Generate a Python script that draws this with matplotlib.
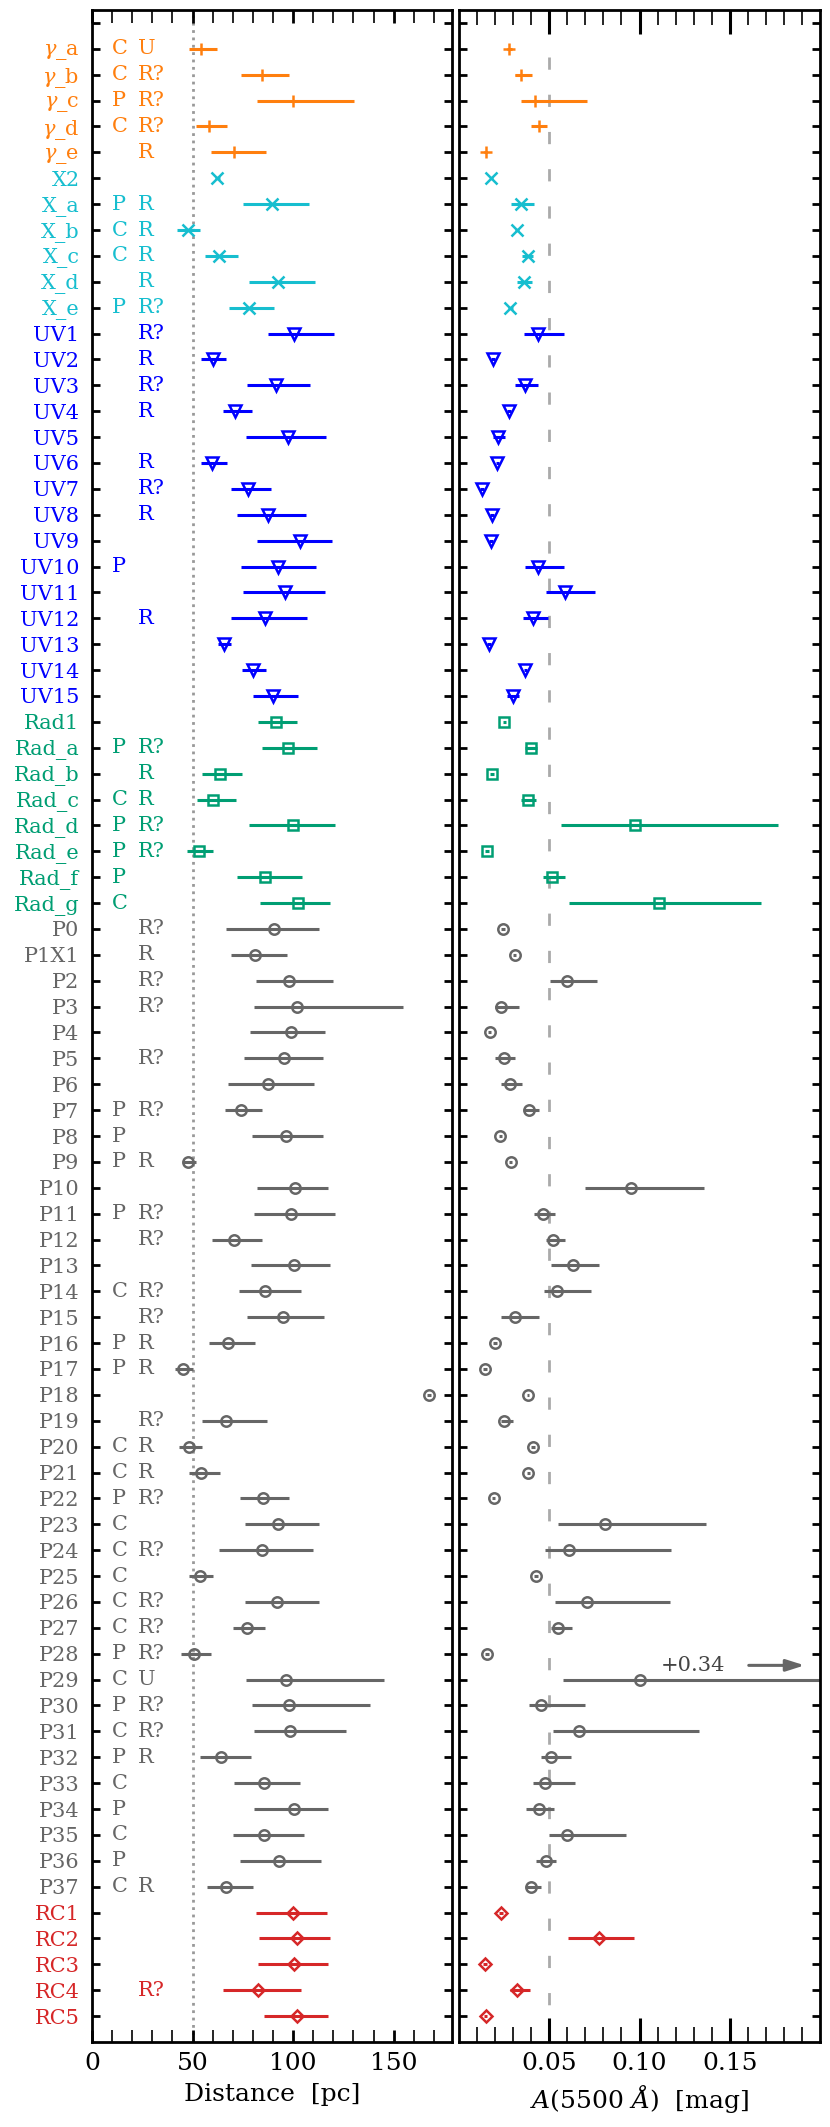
import numpy as np
import matplotlib
matplotlib.use("Agg")
import matplotlib.pyplot as plt

plt.rcParams["font.family"] = ["DejaVu Serif"]
plt.rcParams["mathtext.fontset"] = "dejavuserif"

# row labels, top to bottom
names = [
    r"$\gamma$_a", r"$\gamma$_b", r"$\gamma$_c", r"$\gamma$_d", r"$\gamma$_e",
    "X2", "X_a", "X_b", "X_c", "X_d", "X_e",
    "UV1", "UV2", "UV3", "UV4", "UV5", "UV6", "UV7", "UV8", "UV9", "UV10",
    "UV11", "UV12", "UV13", "UV14", "UV15",
    "Rad1", "Rad_a", "Rad_b", "Rad_c", "Rad_d", "Rad_e", "Rad_f", "Rad_g",
    "P0", "P1X1"] + ["P%d" % k for k in range(2, 38)] + \
    ["RC1", "RC2", "RC3", "RC4", "RC5"]

flag1 = (["C", "C", "P", "C", ""] + ["", "P", "C", "C", "", "P"]
         + [""] * 9 + ["P"] + [""] * 5
         + ["", "P", "", "C", "P", "P", "P", "C"]
         + ["", "", "", "", "", "", "", "P", "P", "P", "", "P", "", "", "C",
            "", "P", "P", "", "", "C", "C", "P", "C", "C", "C", "C", "C", "P",
            "C", "P", "C", "P", "C", "P", "C", "P", "C"]
         + [""] * 5)
flag2 = (["U", "R?", "R?", "R?", "R"] + ["", "R", "R", "R", "R", "R?"]
         + ["R?", "R", "R?", "R", "", "R", "R?", "R", "", "", "", "R", "", "", ""]
         + ["", "R?", "R", "R", "R?", "R?", "", ""]
         + ["R?", "R", "R?", "R?", "", "R?", "", "R?", "", "R", "", "R?", "R?",
            "", "R?", "R?", "R", "R", "", "R?", "R", "R", "R?", "", "R?", "",
            "R?", "R?", "R?", "U", "R?", "R?", "R", "", "", "", "", "R"]
         + ["", "", "", "R?", ""])

# groups: name, number of rows, colour, marker, marker size
group_names = ["gamma", "X", "UV", "Rad", "P", "RC"]
group_sizes = [5, 6, 15, 8, 38, 5]
group_colors = ["#ff7f0e", "#17becf", "#0000ff", "#009e73", "#666666", "#d62728"]
group_markers = ["+", "x", "v", "s", "o", "D"]
group_ms = [9, 8.5, 8, 7, 7.5, 6.5]

# distance [pc]: value, lower end, upper end of the bar
dist = [54.2, 84.7, 100.1, 58.3, 70.4,
        62.3, 89.5, 47.7, 63.1, 92.5, 78.0,
        100.3, 60.1, 91.3, 71.2, 97.5, 59.8, 77.7, 87.5, 103.4, 92.3,
        96.0, 85.8, 65.7, 80.2, 90.0,
        91.3, 97.3, 63.8, 60.4, 100.1, 53.1, 86.2, 102.3,
        90.3, 81.0, 98.1, 101.8, 98.8, 95.5, 87.6, 74.1, 96.3, 47.8,
        101.1, 98.8, 70.6, 100.4, 86.2, 95.1, 67.7, 45.0, 167.5, 66.4,
        48.2, 54.3, 84.9, 92.3, 84.7, 53.6, 92.1, 77.0, 50.5, 96.5,
        97.8, 98.6, 64.2, 85.4, 100.3, 85.5, 93.1, 66.7,
        100.1, 101.9, 100.6, 82.5, 101.8]
dist_lo = [48.1, 74.1, 81.9, 51.5, 59.0,
           61.0, 74.9, 42.5, 56.3, 78.0, 68.2,
           87.3, 54.3, 76.9, 65.1, 76.5, 54.1, 69.2, 72.1, 81.9, 74.0,
           74.9, 68.9, 62.8, 74.5, 80.2,
           82.5, 84.4, 54.8, 52.3, 78.2, 47.3, 72.2, 83.7,
           66.6, 69.2, 81.7, 80.5, 78.4, 75.5, 67.7, 65.9, 79.7, 45.1,
           82.0, 80.7, 59.8, 79.2, 73.2, 77.0, 58.1, 41.3, 166.5, 54.5,
           43.2, 48.0, 73.4, 75.9, 63.2, 48.2, 76.2, 69.9, 44.5, 76.7,
           79.7, 80.7, 53.5, 70.7, 80.5, 70.2, 73.6, 57.1,
           81.7, 83.2, 82.5, 65.1, 85.5]
dist_hi = [62.3, 98.0, 130.5, 67.1, 86.7,
           63.5, 108.1, 53.6, 72.7, 110.8, 90.3,
           120.5, 66.7, 108.4, 79.4, 116.4, 67.2, 89.0, 106.3, 119.2, 111.2,
           115.9, 106.8, 69.2, 86.5, 102.3,
           101.9, 111.9, 74.7, 71.7, 121.0, 60.3, 104.3, 118.5,
           113.0, 96.8, 120.0, 154.6, 115.7, 114.9, 110.3, 84.7, 114.9, 51.7,
           117.4, 120.7, 84.4, 118.5, 104.1, 115.5, 81.2, 50.3, 168.5, 87.2,
           54.5, 63.4, 97.8, 112.7, 110.1, 60.3, 112.9, 86.0, 59.1, 145.1,
           138.2, 126.3, 78.9, 103.3, 117.5, 105.3, 113.8, 79.9,
           116.7, 118.5, 117.5, 103.8, 117.5]

# A(5500 A) [mag]: value, lower end, upper end of the bar
ext = [0.0279, 0.0343, 0.0420, 0.0442, 0.0148,
       0.0180, 0.0341, 0.0322, 0.0385, 0.0361, 0.0284,
       0.0440, 0.0187, 0.0368, 0.0277, 0.0216, 0.0213, 0.0128, 0.0183, 0.0178, 0.0438,
       0.0588, 0.0410, 0.0165, 0.0368, 0.0299,
       0.0251, 0.0400, 0.0183, 0.0383, 0.0973, 0.0156, 0.0515, 0.1110,
       0.0244, 0.0308, 0.0596, 0.0235, 0.0169, 0.0249, 0.0284, 0.0388, 0.0229, 0.0286,
       0.0953, 0.0464, 0.0519, 0.0629, 0.0542, 0.0312, 0.0200, 0.0145, 0.0383, 0.0247,
       0.0410, 0.0385, 0.0192, 0.0811, 0.0612, 0.0425, 0.0709, 0.0546, 0.0156, 0.1004,
       0.0454, 0.0665, 0.0508, 0.0478, 0.0441, 0.0600, 0.0480, 0.0398,
       0.0233, 0.0778, 0.0143, 0.0322, 0.0147]
ext_lo = [0.0265, 0.0312, 0.0346, 0.0401, 0.0140,
          0.0170, 0.0288, 0.0310, 0.0350, 0.0324, 0.0270,
          0.0359, 0.0177, 0.0308, 0.0267, 0.0190, 0.0203, 0.0118, 0.0173, 0.0168, 0.0365,
          0.0484, 0.0357, 0.0155, 0.0358, 0.0266,
          0.0241, 0.0366, 0.0173, 0.0346, 0.0564, 0.0146, 0.0467, 0.0612,
          0.0234, 0.0298, 0.0506, 0.0202, 0.0159, 0.0200, 0.0235, 0.0359, 0.0219, 0.0276,
          0.0696, 0.0416, 0.0482, 0.0511, 0.0471, 0.0233, 0.0190, 0.0135, 0.0378, 0.0235,
          0.0400, 0.0375, 0.0182, 0.0551, 0.0476, 0.0415, 0.0533, 0.0507, 0.0146, 0.0578,
          0.0389, 0.0519, 0.0452, 0.0411, 0.0371, 0.0500, 0.0424, 0.0369,
          0.0223, 0.0606, 0.0133, 0.0282, 0.0137]
ext_hi = [0.0293, 0.0405, 0.0711, 0.0487, 0.0156,
          0.0190, 0.0418, 0.0334, 0.0410, 0.0405, 0.0298,
          0.0579, 0.0197, 0.0436, 0.0287, 0.0256, 0.0223, 0.0138, 0.0193, 0.0188, 0.0579,
          0.0755, 0.0493, 0.0175, 0.0378, 0.0334,
          0.0261, 0.0434, 0.0193, 0.0427, 0.1768, 0.0166, 0.0586, 0.1672,
          0.0254, 0.0318, 0.0766, 0.0335, 0.0179, 0.0308, 0.0350, 0.0442, 0.0239, 0.0296,
          0.1359, 0.0531, 0.0588, 0.0773, 0.0733, 0.0445, 0.0210, 0.0155, 0.0388, 0.0299,
          0.0420, 0.0395, 0.0202, 0.1370, 0.1174, 0.0435, 0.1170, 0.0625, 0.0166, 0.4400,
          0.0698, 0.1328, 0.0619, 0.0641, 0.0524, 0.0924, 0.0537, 0.0452,
          0.0243, 0.0970, 0.0153, 0.0394, 0.0157]

# P29 upper bar runs off the panel
off_scale_row = "P29"
off_scale_text = "+0.34"


def main():
    n = len(names)
    rows = np.arange(n)
    dist_a, dlo, dhi = np.array(dist), np.array(dist_lo), np.array(dist_hi)
    ext_a, elo, ehi = np.array(ext), np.array(ext_lo), np.array(ext_hi)

    fig = plt.figure(figsize=(8.3, 21.27), dpi=100)
    W, H = 830.0, 2127.0
    bottom = 1 - 2042 / H
    height = (2042 - 10) / H
    ax1 = fig.add_axes([92 / W, bottom, 360 / W, height])
    ax2 = fig.add_axes([459 / W, bottom, 361 / W, height])

    row_colors = []
    start = 0
    for size, col, mk, ms in zip(group_sizes, group_colors, group_markers, group_ms):
        sl = slice(start, start + size)
        y = rows[sl]
        ax1.errorbar(dist_a[sl], y, xerr=[dist_a[sl] - dlo[sl], dhi[sl] - dist_a[sl]],
                     fmt=mk, color=col, mfc="none", mec=col, mew=1.8, ms=ms,
                     elinewidth=2.2, capsize=0)
        ax2.errorbar(ext_a[sl], y, xerr=[ext_a[sl] - elo[sl], ehi[sl] - ext_a[sl]],
                     fmt=mk, color=col, mfc="none", mec=col, mew=1.8, ms=ms,
                     elinewidth=2.2, capsize=0)
        row_colors += [col] * size
        start += size

    # C/P and R/U flag columns
    for i in range(n):
        if flag1[i]:
            ax1.text(10, i, flag1[i], color=row_colors[i], fontsize=15,
                     ha="left", va="center")
        if flag2[i]:
            ax1.text(23, i, flag2[i], color=row_colors[i], fontsize=15,
                     ha="left", va="center")

    ax1.axvline(50, color="#999999", linestyle=":", linewidth=2, zorder=0)
    ax2.axvline(0.05, color="#aaaaaa", linewidth=2, dashes=(4.4, 9), zorder=0)

    # off-scale note for P29
    k = names.index(off_scale_row)
    ax2.text(0.112, k - 0.55, off_scale_text, fontsize=15, color="#444444",
             ha="left", va="center")
    ax2.annotate("", xy=(0.193, k - 0.55), xytext=(0.159, k - 0.55),
                 arrowprops=dict(arrowstyle="-|>,head_length=1.1,head_width=0.35",
                                 color="#666666", lw=2.2))

    yt = [-1] + list(rows)
    for ax in (ax1, ax2):
        ax.set_ylim(77.0, -1.5)
        ax.set_yticks(yt)
        ax.tick_params(axis="y", which="major", direction="in", length=6, width=2,
                       left=True, right=True, pad=9)
        for s in ax.spines.values():
            s.set_linewidth(2)

    ax1.set_yticklabels([""] + names, fontsize=15)
    for lab, col in zip(ax1.get_yticklabels()[1:], row_colors):
        lab.set_color(col)
    ax2.set_yticklabels([])

    ax1.set_xlim(0, 179)
    ax1.set_xticks([0, 50, 100, 150])
    ax1.set_xticks(np.arange(10, 180, 10), minor=True)
    ax1.tick_params(axis="x", which="both", direction="in", top=True, bottom=True,
                    labelsize=18, pad=7)
    ax1.tick_params(axis="x", which="major", length=9, width=2)
    ax1.tick_params(axis="x", which="minor", length=9, width=1.2)
    ax1.set_xlabel("Distance  [pc]", fontsize=18, labelpad=6)

    ax2.set_xlim(0, 0.2)
    ax2.set_xticks([0.05, 0.10, 0.15])
    ax2.set_xticklabels(["0.05", "0.10", "0.15"])
    ax2.set_xticks(np.arange(0.01, 0.2, 0.01), minor=True)
    ax2.tick_params(axis="x", which="both", direction="in", top=True, bottom=True,
                    labelsize=18, pad=7)
    ax2.tick_params(axis="x", which="major", length=17, width=2.2)
    ax2.tick_params(axis="x", which="minor", length=11, width=1.2)
    ax2.set_xlabel(r"$A(5500\ \AA)$  [mag]", fontsize=18, labelpad=6)

    fig.savefig("out.png", dpi=100)
    plt.close(fig)


if __name__ == "__main__":
    main()
